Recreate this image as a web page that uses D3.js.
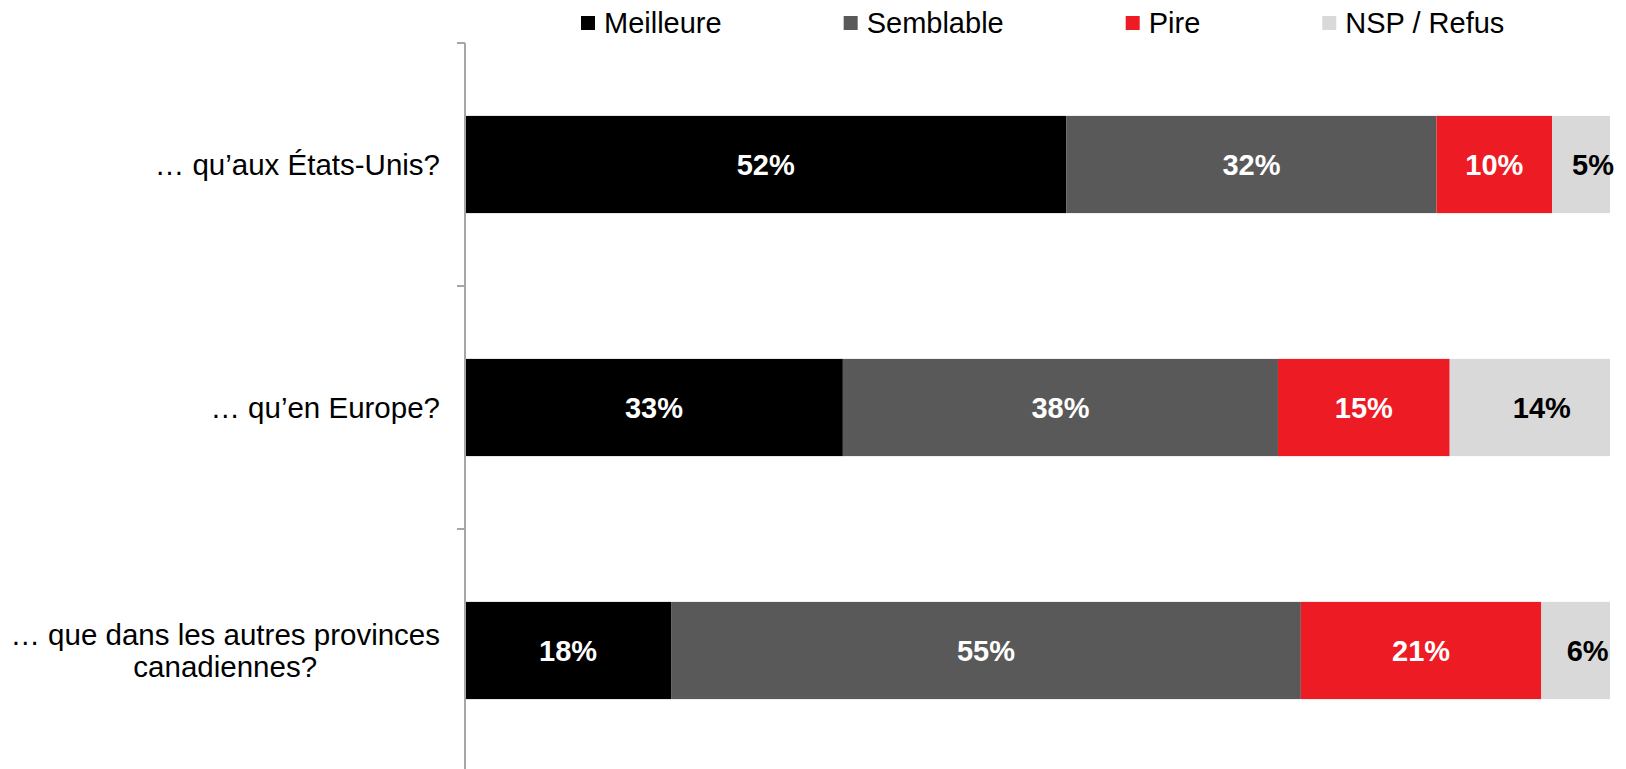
<!DOCTYPE html>
<html>
<head>
<meta charset="utf-8">
<script src="https://cdn.jsdelivr.net/npm/d3@7"></script>
<style>
  html, body { margin: 0; padding: 0; background: #fff; }
  svg { display: block; font-family: Arial, "Liberation Sans", sans-serif; }
</style>
</head>
<body>
<svg id="chart" width="1626" height="769"></svg>
<script>
// Survey categories (each label may span several lines)
const categories = [
  ["… qu’aux États-Unis?"],
  ["… qu’en Europe?"],
  ["… que dans les autres provinces", "canadiennes?"]
];
const seriesNames = ["Meilleure", "Semblable", "Pire", "NSP / Refus"];
const seriesColors = ["#000000", "#595959", "#ED1C24", "#D9D9D9"];
const labelColors = ["#ffffff", "#ffffff", "#ffffff", "#000000"];

// Percentages per series, one value per category
const meilleure = [52, 33, 18];
const semblable = [32, 38, 55];
const pire      = [10, 15, 21];
const nspRefus  = [5, 14, 6];

const rows = categories.map((c, i) => ({
  key: c.join(" "),
  lines: c,
  "Meilleure": meilleure[i],
  "Semblable": semblable[i],
  "Pire": pire[i],
  "NSP / Refus": nspRefus[i]
}));

const svg = d3.select("#chart");

// 100% stacked layout
const stacked = d3.stack()
  .keys(seriesNames)
  .offset(d3.stackOffsetExpand)(rows);

const x = d3.scaleLinear().domain([0, 1]).range([465, 1610]);
const y = d3.scaleBand()
  .domain(rows.map(d => d.key))
  .range([43, 772])
  .paddingInner(0.6)
  .paddingOuter(0.3);

// Bars
const layers = svg.append("g").selectAll("g")
  .data(stacked)
  .join("g")
  .attr("fill", (d, i) => seriesColors[i]);

layers.selectAll("rect")
  .data(d => d.map(p => ({ p, key: d.key })))
  .join("rect")
  .attr("x", d => x(d.p[0]))
  .attr("width", d => x(d.p[1]) - x(d.p[0]))
  .attr("y", d => y(d.p.data.key))
  .attr("height", y.bandwidth());

// Value labels (the last series' labels sit a little right of centre)
stacked.forEach((layer, si) => {
  svg.append("g").selectAll("text")
    .data(layer)
    .join("text")
    .attr("x", d => (x(d[0]) + x(d[1])) / 2)
    .attr("y", d => y(d.data.key) + y.bandwidth() / 2)
    .attr("dx", si === seriesNames.length - 1 ? 12 : 0)
    .attr("dy", "0.36em")
    .attr("text-anchor", "middle")
    .attr("font-size", 29)
    .attr("font-weight", "bold")
    .attr("fill", labelColors[si])
    .text(d => d.data[layer.key] + "%");
});

// Vertical category axis with ticks at band boundaries
const axisColor = "#a6a6a6";
const axis = svg.append("g");
const step = y.step();
const tickYs = rows.map((d, i) => 43 + i * step).concat([43 + rows.length * step]);
axis.append("line")
  .attr("x1", 465).attr("x2", 465)
  .attr("y1", tickYs[0]).attr("y2", tickYs[tickYs.length - 1])
  .attr("stroke", axisColor).attr("stroke-width", 2);
axis.selectAll("line.tick")
  .data(tickYs)
  .join("line")
  .attr("class", "tick")
  .attr("x1", 457).attr("x2", 465)
  .attr("y1", d => d).attr("y2", d => d)
  .attr("stroke", axisColor).attr("stroke-width", 2);

// Category labels: block right-aligned, lines centred within block
const labelRight = 440;
const lineH = 32;
rows.forEach(r => {
  const g = svg.append("g");
  const cy = y(r.key) + y.bandwidth() / 2;
  const texts = r.lines.map((ln, li) =>
    g.append("text")
      .attr("font-size", 29.5)
      .attr("fill", "#000")
      .attr("text-anchor", "middle")
      .attr("y", cy + (li - (r.lines.length - 1) / 2) * lineH)
      .attr("dy", "0.36em")
      .text(ln)
  );
  const w = d3.max(texts, t => t.node().getComputedTextLength());
  texts.forEach(t => t.attr("x", labelRight - w / 2));
});

// Legend
const legend = svg.append("g");
let lx = 581;
seriesNames.forEach((name, i) => {
  legend.append("rect")
    .attr("x", lx).attr("y", 16)
    .attr("width", 14).attr("height", 14)
    .attr("fill", seriesColors[i]);
  const t = legend.append("text")
    .attr("x", lx + 23).attr("y", 33)
    .attr("font-size", 29)
    .attr("fill", "#000")
    .text(name);
  lx += 23 + t.node().getComputedTextLength() + 122;
});
</script>
</body>
</html>
